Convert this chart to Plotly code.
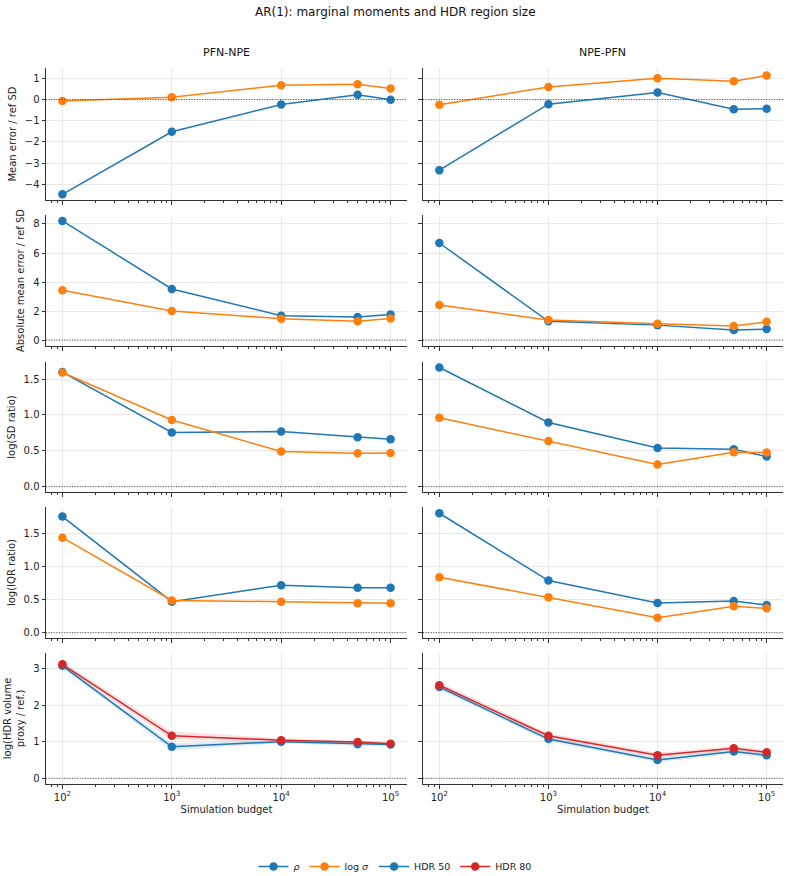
import plotly.graph_objects as go

budget = [100, 1000, 10000, 50000, 100000]

# Row 1: Mean error / ref SD
me_rho_pfn = [-4.47, -1.52, -0.24, 0.22, -0.01]
me_ls_pfn = [-0.07, 0.11, 0.67, 0.72, 0.52]
me_rho_npe = [-3.33, -0.22, 0.33, -0.46, -0.44]
me_ls_npe = [-0.25, 0.59, 1.00, 0.86, 1.13]

# Row 2: Absolute mean error / ref SD
ame_rho_pfn = [8.21, 3.52, 1.68, 1.59, 1.77]
ame_ls_pfn = [3.43, 2.00, 1.47, 1.29, 1.49]
ame_rho_npe = [6.69, 1.29, 1.03, 0.69, 0.76]
ame_ls_npe = [2.41, 1.38, 1.13, 0.97, 1.26]

# Row 3: log(SD ratio)
sd_rho_pfn = [1.597, 0.756, 0.77, 0.69, 0.66]
sd_ls_pfn = [1.59, 0.93, 0.49, 0.465, 0.47]
sd_rho_npe = [1.66, 0.894, 0.54, 0.52, 0.42]
sd_ls_npe = [0.96, 0.635, 0.31, 0.48, 0.475]

# Row 4: log(IQR ratio)
iqr_rho_pfn = [1.76, 0.47, 0.72, 0.68, 0.68]
iqr_ls_pfn = [1.44, 0.49, 0.47, 0.445, 0.445]
iqr_rho_npe = [1.81, 0.79, 0.45, 0.48, 0.42]
iqr_ls_npe = [0.84, 0.536, 0.227, 0.40, 0.37]

# Row 5: log(HDR volume proxy / ref.)
hdr50_pfn = [3.07, 0.86, 1.00, 0.93, 0.92]
hdr50_pfn_lo = [3.02, 0.76, 0.96, 0.88, 0.87]
hdr50_pfn_hi = [3.12, 0.96, 1.04, 0.98, 0.97]
hdr80_pfn = [3.11, 1.16, 1.04, 0.99, 0.94]
hdr80_pfn_lo = [3.05, 1.05, 1.00, 0.94, 0.90]
hdr80_pfn_hi = [3.17, 1.28, 1.09, 1.03, 0.99]
hdr50_npe = [2.49, 1.07, 0.50, 0.73, 0.63]
hdr50_npe_lo = [2.42, 1.01, 0.44, 0.67, 0.57]
hdr50_npe_hi = [2.56, 1.13, 0.56, 0.79, 0.69]
hdr80_npe = [2.54, 1.16, 0.63, 0.82, 0.71]
hdr80_npe_lo = [2.46, 1.09, 0.57, 0.76, 0.65]
hdr80_npe_hi = [2.62, 1.23, 0.70, 0.88, 0.77]

col_titles = ["PFN-NPE", "NPE-PFN"]
row_labels = ["Mean error / ref SD", "Absolute mean error / ref SD", "log(SD ratio)",
              "log(IQR ratio)", "log(HDR volume<br>proxy / ref.)"]
row_ranges = [[-4.74, 1.486], [-0.41, 8.62], [-0.074, 1.737], [-0.08, 1.905], [-0.155, 3.42]]
row_ticks = [[-4, -3, -2, -1, 0, 1], [0, 2, 4, 6, 8], [0, 0.5, 1.0, 1.5], [0, 0.5, 1.0, 1.5], [0, 1, 2, 3]]
row_ticktext = [["−4", "−3", "−2", "−1", "0", "1"], ["0", "2", "4", "6", "8"],
                ["0.0", "0.5", "1.0", "1.5"], ["0.0", "0.5", "1.0", "1.5"], ["0", "1", "2", "3"]]
xtickvals = [100, 1000, 10000, 100000]
xticktext = ["10<sup>2</sup>", "10<sup>3</sup>", "10<sup>4</sup>", "10<sup>5</sup>"]

BLUE = "#1f77b4"
ORANGE = "#ff7f0e"
RED = "#d62728"
FONT = "DejaVu Sans"

xdom = [[0.0, 0.4898], [0.5115, 1.0]]
ydom = [[0.8156, 1.0], [0.6117, 0.7947], [0.4078, 0.5894], [0.2039, 0.3869], [0.0, 0.1830]]

fig = go.Figure()
layout = {}

def axname(r, c):
    i = r * 2 + c + 1
    return ("x" if i == 1 else f"x{i}"), ("y" if i == 1 else f"y{i}"), i

shapes = []
for r in range(5):
    for c in range(2):
        xa, ya, i = axname(r, c)
        xkey = "xaxis" if i == 1 else f"xaxis{i}"
        ykey = "yaxis" if i == 1 else f"yaxis{i}"
        xax = dict(
            domain=xdom[c], anchor=ya, type="log", range=[1.85, 5.15],
            tickvals=xtickvals, ticktext=xticktext, showticklabels=(r == 4),
            ticks="outside", ticklen=3.5, tickwidth=1, tickcolor="#333",
            showline=True, linecolor="#333", linewidth=1,
            showgrid=True, gridcolor="#e8e8e8", gridwidth=1, zeroline=False,
            minor=dict(ticks="outside", ticklen=2, tickcolor="#333", dtick="D1", showgrid=False),
            tickfont=dict(size=10, color="#222", family=FONT),
        )
        if r == 4:
            xax["title"] = dict(text="Simulation budget", font=dict(size=10, color="#222", family=FONT), standoff=4)
        yax = dict(
            domain=ydom[r], anchor=xa, range=row_ranges[r],
            tickvals=row_ticks[r], ticktext=row_ticktext[r], showticklabels=(c == 0),
            ticks="outside", ticklen=3.5, tickwidth=1, tickcolor="#333",
            showline=True, linecolor="#333", linewidth=1,
            showgrid=True, gridcolor="#e8e8e8", gridwidth=1, zeroline=False,
            tickfont=dict(size=10, color="#222", family=FONT),
        )
        if c == 0:
            yax["title"] = dict(text=row_labels[r], font=dict(size=10, color="#222", family=FONT), standoff=6)
        layout[xkey] = xax
        layout[ykey] = yax
        shapes.append(dict(type="line", xref=f"{xa} domain", yref=ya, x0=0, x1=1, y0=0, y1=0,
                           line=dict(color="#444", width=1, dash="1px,1.6px"), layer="above"))

def line(xa, ya, y, color, name, show):
    fig.add_trace(go.Scatter(x=budget, y=y, mode="lines+markers", name=name, showlegend=show,
                             legendgroup=name, xaxis=xa, yaxis=ya,
                             line=dict(color=color, width=1.5),
                             marker=dict(color=color, size=8.5)))

def band(xa, ya, lo, hi, color):
    fig.add_trace(go.Scatter(x=budget + budget[::-1], y=hi + lo[::-1], fill="toself",
                             fillcolor=color, line=dict(width=0), mode="lines",
                             hoverinfo="skip", showlegend=False, xaxis=xa, yaxis=ya))

rows = [
    [(me_rho_pfn, me_ls_pfn), (me_rho_npe, me_ls_npe)],
    [(ame_rho_pfn, ame_ls_pfn), (ame_rho_npe, ame_ls_npe)],
    [(sd_rho_pfn, sd_ls_pfn), (sd_rho_npe, sd_ls_npe)],
    [(iqr_rho_pfn, iqr_ls_pfn), (iqr_rho_npe, iqr_ls_npe)],
]
for r in range(4):
    for c in range(2):
        xa, ya, _ = axname(r, c)
        rho, ls = rows[r][c]
        first = (r == 0 and c == 0)
        line(xa, ya, rho, BLUE, "<i>ρ</i>", first)
        line(xa, ya, ls, ORANGE, "log <i>σ</i>", first)

hdr = [
    (hdr50_pfn, hdr50_pfn_lo, hdr50_pfn_hi, hdr80_pfn, hdr80_pfn_lo, hdr80_pfn_hi),
    (hdr50_npe, hdr50_npe_lo, hdr50_npe_hi, hdr80_npe, hdr80_npe_lo, hdr80_npe_hi),
]
for c in range(2):
    xa, ya, _ = axname(4, c)
    h50, l50, u50, h80, l80, u80 = hdr[c]
    band(xa, ya, l50, u50, "rgba(31,119,180,0.15)")
    band(xa, ya, l80, u80, "rgba(214,39,40,0.15)")
    line(xa, ya, h50, BLUE, "HDR 50", c == 0)
    line(xa, ya, h80, RED, "HDR 80", c == 0)

annotations = [
    dict(text="AR(1): marginal moments and HDR region size", xref="paper", yref="paper",
         x=(395 - 46) / 737, y=1 + (68 - 12) / 716, xanchor="center", yanchor="middle",
         showarrow=False, font=dict(size=12, color="#111", family=FONT)),
]
for c in range(2):
    annotations.append(dict(text=col_titles[c], xref="paper", yref="paper",
                            x=(xdom[c][0] + xdom[c][1]) / 2, y=1 + (68 - 52) / 716,
                            xanchor="center", yanchor="middle", showarrow=False,
                            font=dict(size=11, color="#111", family=FONT)))

fig.update_layout(**layout)
fig.update_layout(
    width=791, height=876, margin=dict(l=46, r=8, t=68, b=92, autoexpand=False),
    plot_bgcolor="white", paper_bgcolor="white",
    font=dict(family=FONT, size=10, color="#222"),
    shapes=shapes, annotations=annotations,
    legend=dict(orientation="h", x=(395 - 46) / 737, xanchor="center", y=-(852 - 784) / 716, yanchor="top",
                font=dict(size=9.5, family=FONT, color="#222"), itemwidth=30, tracegroupgap=0),
    hovermode=False,
)
fig.write_html("out.html")
